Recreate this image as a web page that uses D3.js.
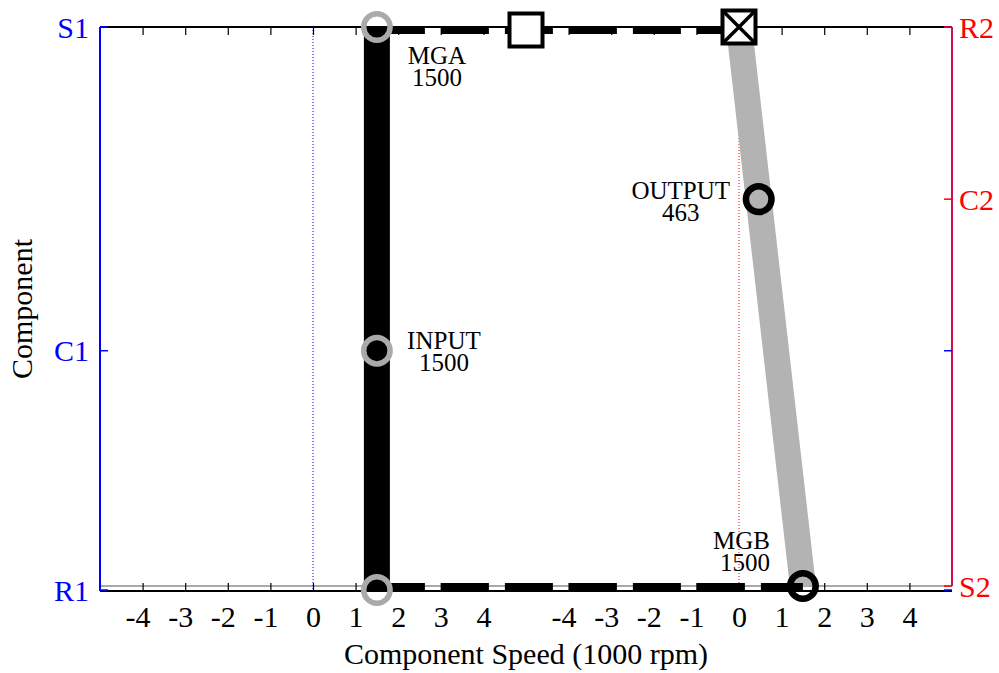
<!DOCTYPE html>
<html>
<head>
<meta charset="utf-8">
<script src="https://cdn.jsdelivr.net/npm/d3@7"></script>
<style>
  body { margin: 0; background: #fff; }
  svg { display: block; }
  text { font-family: "Liberation Serif", "Times New Roman", serif; }
</style>
</head>
<body>
<svg width="999" height="673"></svg>
<script>
// lever positions (0 = top of lever, 1 = bottom)
var leftComponents = ["S1", "C1", "R1"];
var leftPos = [0, 0.575, 1];
var rightComponents = ["R2", "C2", "S2"];
var rightPos = [0, 0.308, 1];

// component speeds in 1000 rpm
var leftSpeeds = [1.5, 1.5, 1.5];    // S1, C1, R1
var rightSpeeds = [0, 0.463, 1.5];   // R2, C2, S2

var speedTicks = [-4, -3, -2, -1, 0, 1, 2, 3, 4];

var tagNames = ["MGA", "INPUT", "OUTPUT", "MGB"];
var tagValues = ["1500", "1500", "463", "1500"];

var svg = d3.select("svg"),
    plotLeft = 100, plotRight = 952, plotTop = 27, bottomL = 591, bottomR = 586,
    mid = (plotLeft + plotRight) / 2;

var xL = d3.scaleLinear().domain([-5, 5]).range([plotLeft, mid]);
var xR = d3.scaleLinear().domain([-5, 5]).range([mid, plotRight]);
var yL = d3.scaleLinear().domain([0, 1]).range([plotTop, 590]);
var yR = d3.scaleLinear().domain([0, 1]).range([plotTop, bottomR]);

var g = svg.append("g");

// zero speed reference lines
g.append("line")
  .attr("x1", xL(0)).attr("x2", xL(0)).attr("y1", plotTop).attr("y2", bottomL)
  .style("stroke", "#0000ff").style("stroke-width", 1).style("stroke-dasharray", "1,2");
g.append("line")
  .attr("x1", xR(0)).attr("x2", xR(0)).attr("y1", plotTop).attr("y2", bottomR)
  .style("stroke", "#ff0000").style("stroke-width", 1).style("stroke-dasharray", "1,2");

// box lines
g.append("line").attr("x1", plotLeft).attr("x2", plotRight).attr("y1", bottomR).attr("y2", bottomR)
  .style("stroke", "#555").style("stroke-width", 1.2);
g.append("line").attr("x1", plotLeft).attr("x2", plotRight).attr("y1", bottomL).attr("y2", bottomL)
  .style("stroke", "#000").style("stroke-width", 1.8);
g.append("line").attr("x1", plotLeft).attr("x2", plotRight).attr("y1", plotTop).attr("y2", plotTop)
  .style("stroke", "#000").style("stroke-width", 1.8);
g.append("line").attr("x1", plotLeft).attr("x2", plotLeft).attr("y1", plotTop).attr("y2", bottomL)
  .style("stroke", "#0000ff").style("stroke-width", 2);
g.append("line").attr("x1", plotRight).attr("x2", plotRight).attr("y1", plotTop).attr("y2", bottomR)
  .style("stroke", "#d0104c").style("stroke-width", 2);

// x axes (two speed scales side by side)
function speedAxis(scale) {
  var bottom = g.append("g")
    .attr("transform", "translate(0," + bottomL + ")")
    .call(d3.axisBottom(scale).tickValues(speedTicks).tickSize(-8).tickSizeOuter(0)
      .tickPadding(36).tickFormat(function(d) { return String(d); }));
  bottom.select(".domain").remove();
  bottom.selectAll("line").style("stroke", "#000").style("stroke-width", 1.2);
  bottom.selectAll("text")
    .attr("dy", 0)
    .attr("dx", 7.5)
    .attr("text-anchor", "end")
    .style("font-size", "30px")
    .style("font-family", "'Liberation Serif', 'Times New Roman', serif")
    .style("fill", "#000");

  var topAxis = g.append("g")
    .attr("transform", "translate(0," + plotTop + ")")
    .call(d3.axisTop(scale).tickValues(speedTicks).tickSize(-8).tickSizeOuter(0)
      .tickFormat(""));
  topAxis.select(".domain").remove();
  topAxis.selectAll("line").style("stroke", "#000").style("stroke-width", 1.2);
}
speedAxis(xL);
speedAxis(xR);

// y axis ticks + labels
var leftTicks = g.append("g").selectAll("g")
  .data(leftComponents).enter().append("g");
leftTicks.append("line")
  .attr("x1", plotLeft).attr("x2", plotLeft + 8)
  .attr("y1", function(d, i) { return yL(leftPos[i]); })
  .attr("y2", function(d, i) { return yL(leftPos[i]); })
  .style("stroke", "#0000ff").style("stroke-width", 1.5);
leftTicks.append("line")
  .attr("x1", plotRight - 8).attr("x2", plotRight)
  .attr("y1", function(d, i) { return yL(leftPos[i]); })
  .attr("y2", function(d, i) { return yL(leftPos[i]); })
  .style("stroke", "#0000ff").style("stroke-width", 1.5);
leftTicks.append("text")
  .attr("x", plotLeft - 11)
  .attr("y", function(d, i) { return yL(leftPos[i]) + 10.5; })
  .attr("text-anchor", "end")
  .style("font-size", "30px").style("fill", "#0000ff")
  .text(function(d) { return d; });

var rightTicks = g.append("g").selectAll("g")
  .data(rightComponents).enter().append("g");
rightTicks.append("line")
  .attr("x1", plotRight - 8).attr("x2", plotRight)
  .attr("y1", function(d, i) { return yR(rightPos[i]); })
  .attr("y2", function(d, i) { return yR(rightPos[i]); })
  .style("stroke", "#ff0000").style("stroke-width", 1.5);
rightTicks.append("text")
  .attr("x", plotRight + 7)
  .attr("y", function(d, i) { return yR(rightPos[i]) + 10.5; })
  .attr("text-anchor", "start")
  .style("font-size", "30px").style("fill", "#ff0000")
  .text(function(d) { return d; });

// axis titles
g.append("text")
  .attr("x", mid).attr("y", 664)
  .attr("text-anchor", "middle")
  .style("font-size", "30px")
  .text("Component Speed (1000 rpm)");
g.append("text")
  .attr("transform", "translate(32," + ((plotTop + bottomL) / 2) + ") rotate(-90)")
  .attr("text-anchor", "middle")
  .style("font-size", "30px")
  .text("Component");

// levers
var lever = d3.line().x(function(d) { return d[0]; }).y(function(d) { return d[1]; });

g.append("path")
  .attr("d", lever(leftPos.map(function(p, i) { return [xL(leftSpeeds[i]), yL(p)]; })))
  .style("fill", "none").style("stroke", "#000").style("stroke-width", 26);

g.append("path")
  .attr("d", lever(rightPos.map(function(p, i) { return [xR(rightSpeeds[i]), yR(p)]; })))
  .style("fill", "none").style("stroke", "#b3b3b3").style("stroke-width", 26);

// connections between gear sets
g.append("line")
  .attr("x1", xL(leftSpeeds[0])).attr("x2", xR(rightSpeeds[0]))
  .attr("y1", yL(0) + 3).attr("y2", yL(0) + 3)
  .style("stroke", "#000").style("stroke-width", 8).style("stroke-dasharray", "48,16");
g.append("line")
  .attr("x1", xL(leftSpeeds[2])).attr("x2", xR(rightSpeeds[2]))
  .attr("y1", yR(1) + 1).attr("y2", yR(1) + 1)
  .style("stroke", "#000").style("stroke-width", 8).style("stroke-dasharray", "48,16");

// clutch square at scale junction
g.append("rect")
  .attr("x", mid - 16.5).attr("y", yL(0) + 3 - 16.5)
  .attr("width", 33).attr("height", 33)
  .style("fill", "#fff").style("stroke", "#000").style("stroke-width", 4);

// brake (grounded R2)
var bx = xR(rightSpeeds[0]), by = yR(0), bs = 16.5;
g.append("rect")
  .attr("x", bx - bs).attr("y", by - bs)
  .attr("width", bs * 2).attr("height", bs * 2)
  .style("fill", "#fff").style("stroke", "#000").style("stroke-width", 4);
g.append("path")
  .attr("d", "M" + (bx - bs) + "," + (by - bs) + "L" + (bx + bs) + "," + (by + bs) +
             "M" + (bx + bs) + "," + (by - bs) + "L" + (bx - bs) + "," + (by + bs))
  .style("stroke", "#000").style("stroke-width", 3.5);

// node markers
var grayNodes = leftPos.map(function(p, i) { return [xL(leftSpeeds[i]), yL(p)]; });
g.append("g").selectAll("circle")
  .data(grayNodes).enter().append("circle")
  .attr("cx", function(d) { return d[0]; })
  .attr("cy", function(d) { return d[1]; })
  .attr("r", 13.2)
  .style("fill", "none").style("stroke", "#aaaaaa").style("stroke-width", 5.5);

var blackNodes = [[xR(rightSpeeds[1]), yR(rightPos[1])], [xR(rightSpeeds[2]), yR(rightPos[2])]];
g.append("g").selectAll("circle")
  .data(blackNodes).enter().append("circle")
  .attr("cx", function(d) { return d[0]; })
  .attr("cy", function(d) { return d[1]; })
  .attr("r", 12.8)
  .style("fill", "none").style("stroke", "#000").style("stroke-width", 6.5);

// node tags
var tagAnchors = [
  { x: xL(leftSpeeds[0]), y: yL(leftPos[0]), dx: 60, dy: 37, anchor: "middle" },
  { x: xL(leftSpeeds[1]), y: yL(leftPos[1]), dx: 67, dy: -2, anchor: "middle" },
  { x: xR(rightSpeeds[1]), y: yR(rightPos[1]), dx: -78, dy: 0, anchor: "middle" },
  { x: xR(rightSpeeds[2]), y: yR(rightPos[2]), dx: -33, dy: -37, anchor: "end" }
];
tagNames.forEach(function(name, i) {
  var a = tagAnchors[i];
  var t = g.append("text")
    .attr("text-anchor", a.anchor)
    .style("font-size", "25px");
  t.append("tspan").attr("x", a.x + a.dx).attr("y", a.y + a.dy).text(name);
  t.append("tspan").attr("x", a.x + a.dx).attr("y", a.y + a.dy + 22).text(tagValues[i]);
});
</script>
</body>
</html>
